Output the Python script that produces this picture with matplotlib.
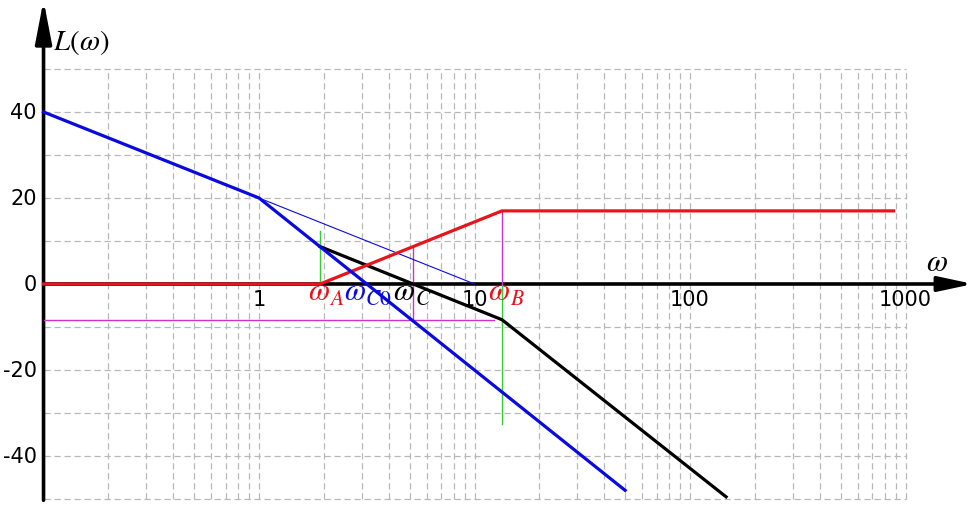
import numpy as np
import matplotlib.pyplot as plt

# asymptotic magnitude curves, break points
blue_w = [0.1, 1.0, 50.0]
blue_L = [40.0, 20.0, -48.0]
blue_thin_w = [1.0, 10.0]
blue_thin_L = [20.0, 0.0]
black_w = [1.92, 13.4, 147.0]
black_L = [8.7, -8.3, -49.5]
red_w = [0.1, 1.92, 13.4, 880.0]
red_L = [0.0, 0.0, 17.0, 17.0]

# helper lines
wA, wC, wB = 1.92, 5.2, 13.4
green_A = [0.0, 12.3]
green_B = [0.0, -32.5]
mag_C = [8.5, -8.4]
mag_B = [17.0, 0.0]
mag_h_w = [0.1, 12.3]
mag_h_L = -8.4

y_ticks = [40, 20, 0, -20, -40]
x_ticks = [1, 10, 100, 1000]
x_tick_labels = ['1', '10', '100', '1000']

BLUE = '#0a0ae0'
RED = '#e8141c'
GREEN = '#33cc33'
MAG = '#cc33cc'
GRID = '#b8b8b8'

plt.rcParams['mathtext.fontset'] = 'stix'

fig = plt.figure(figsize=(9.75, 5.06), dpi=100)
ax = fig.add_axes([0, 0, 1, 1])
ax.set_xscale('log')
ax.set_xlim(0.0628, 2101)
ax.set_ylim(-51.4, 66.28)
ax.axis('off')

# grid
for L in range(-50, 51, 10):
    ax.plot([0.1, 1000], [L, L], color=GRID, lw=0.9, ls=(0, (5, 3)), zorder=1)
grid_w = [k * 10.0 ** n for n in range(-1, 3) for k in range(1, 10)] + [1000]
for w in grid_w[1:]:
    ax.plot([w, w], [-50, 50], color=GRID, lw=0.9, ls=(0, (5, 3)), zorder=1)

# axes with arrows
ax.annotate('', xy=(0.1, 66.0), xytext=(0.1, -50.3),
            arrowprops=dict(arrowstyle='-|>,head_length=2.6,head_width=0.5',
                            lw=2.6, color='k', shrinkA=0, shrinkB=0), zorder=3)
ax.annotate('', xy=(2060, 0), xytext=(0.1, 0),
            arrowprops=dict(arrowstyle='-|>,head_length=2.1,head_width=0.45',
                            lw=2.6, color='k', shrinkA=0, shrinkB=0), zorder=3)

# helper lines
ax.plot([wA, wA], green_A, color=GREEN, lw=1, zorder=4)
ax.plot([wB, wB], green_B, color=GREEN, lw=1, zorder=4)
ax.plot([wC, wC], mag_C, color=MAG, lw=1, zorder=4)
ax.plot([wB, wB], mag_B, color=MAG, lw=1, zorder=4)
ax.plot(mag_h_w, [mag_h_L, mag_h_L], color=MAG, lw=1, zorder=4)

# curves
ax.plot(blue_thin_w, blue_thin_L, color=BLUE, lw=0.8, zorder=5)
ax.plot(black_w, black_L, color='k', lw=2.3, zorder=5)
ax.plot(red_w, red_L, color=RED, lw=2.3, zorder=6)
ax.plot(blue_w, blue_L, color=BLUE, lw=2.3, zorder=7)

# tick labels
for v in y_ticks:
    ax.annotate(str(v), xy=(0.1, v), xytext=(-5, 0), textcoords='offset points',
                ha='right', va='center', fontsize=15, zorder=3)
for v, s in zip(x_ticks, x_tick_labels):
    ax.annotate(s, xy=(v, 0), xytext=(0, -11), textcoords='offset points',
                ha='center', va='center', fontsize=15, zorder=3)

# axis names
ax.text(0.111, 56.5, r'$L(\omega)$', fontsize=21, ha='left', va='center')
ax.text(1400, 5.2, r'$\omega$', fontsize=22, ha='center', va='center')

# frequency labels
def omega_label(w, sub, color, dx=0):
    ax.annotate(r'$\omega$', xy=(w, 0), xytext=(dx - 0.5, -5), textcoords='offset points',
                ha='center', va='center', fontsize=22, color=color, zorder=4)
    ax.annotate(r'$\mathit{' + sub + '}$', xy=(w, 0), xytext=(dx + 7, -10),
                textcoords='offset points', ha='left', va='center',
                fontsize=15.5, color=color, zorder=4)

omega_label(wA, 'A', RED, dx=-0.5)
omega_label(3.16, 'C0', BLUE, dx=-8)
omega_label(wC, 'C', 'k', dx=-6)
omega_label(wB, 'B', RED, dx=-1.5)

fig.savefig('out.png', dpi=100)
